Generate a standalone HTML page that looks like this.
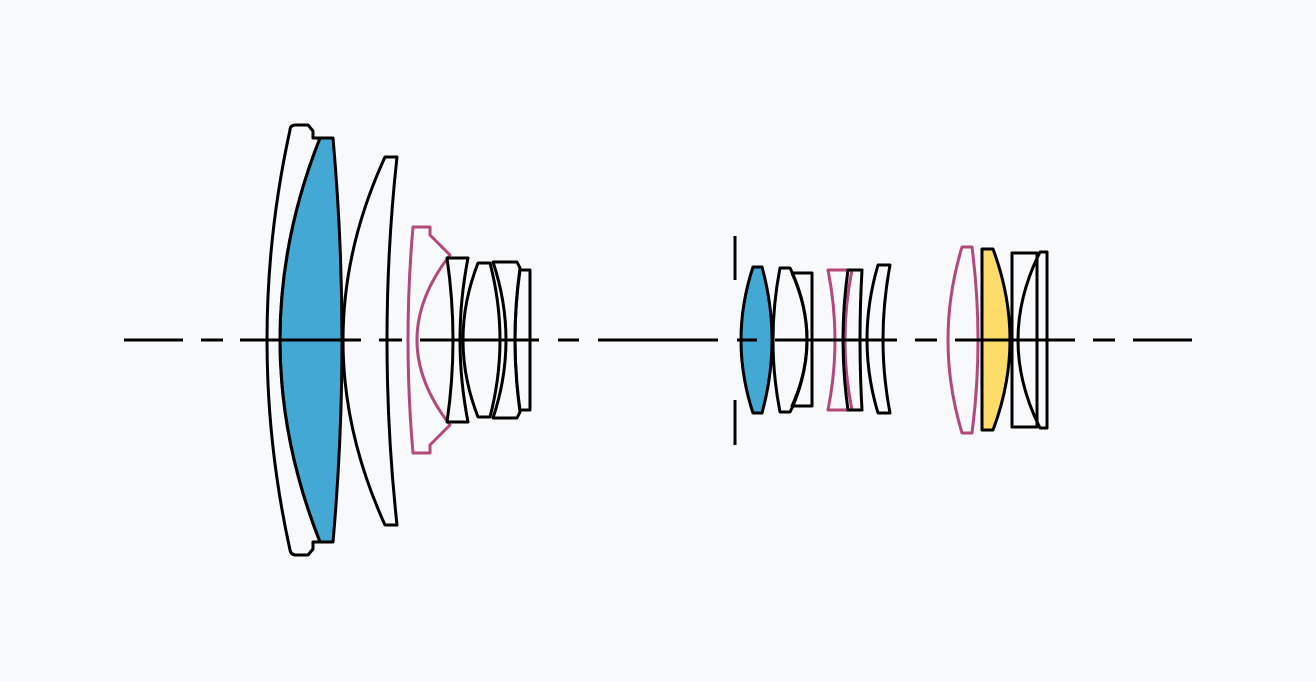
<!DOCTYPE html>
<html><head><meta charset="utf-8"><style>
html,body{margin:0;padding:0;background:#f8f9fa;}
svg{display:block;}
</style></head><body>
<svg width="1316" height="682" viewBox="0 0 1316 682" xmlns="http://www.w3.org/2000/svg">
<rect width="1316" height="682" fill="#f8f9fa"/>
<g fill="none" stroke="#000" stroke-width="3" stroke-linejoin="round">
<path d="M320,138 L333,138 Q351,340 333,542 L320,542 Q240,340 320,138 Z" fill="#43a9d4"/>
<path d="M290,130 Q244,340 290,550 Q291,555 296,555 L308,555 L313,549 L313,542 L320,542 Q240,340 320,138 L313,138 L313,131 L308,125 L296,125 Q290,125 290,130 Z"/>
<path d="M385,157 L397,157 Q377,340 397,525 L385,525 Q301,340 385,157 Z"/>
<path d="M413,227 L430,227 L430,235 L450,255 Q384,340 450,425 L430,445 L430,453 L413,453 Q403,340 413,227 Z" stroke="#b5487a"/>
<path d="M447,258 L468,258 Q452,340 468,422 L447,422 Q459,340 447,258 Z"/>
<path d="M478,263 L490,263 Q510,340 490,417 L478,417 Q448,340 478,263 Z"/>
<path d="M493,262 L517,262 L520,268 Q510,340 520,412 L517,418 L493,418 Q519,340 493,262 Z"/>
<path d="M520,270 L530,270 L530,410 L520,410 Q510,340 520,270 Z"/>
<path d="M735,236 L735,280 M735,400 L735,445"/>
<path d="M753,267 L762,267 Q782,340 762,413 L753,413 Q729,340 753,267 Z" fill="#43a9d4"/>
<path d="M780,268 L790,268 L792,272 Q822,340 792,408 L790,412 L780,412 Q766,340 780,268 Z"/>
<path d="M792,273 L812,273 L812,406 L792,406 Q822,340 792,273 Z"/>
<path d="M828,270 L852,270 Q838,340 852,410 L828,410 Q842,340 828,270 Z" stroke="#b5487a"/>
<path d="M848,270 L862,270 Q858,340 862,410 L848,410 Q838,340 848,270 Z"/>
<path d="M878,265 L890,265 Q876,340 890,413 L878,413 Q856,340 878,265 Z"/>
<path d="M962,247 L972,247 Q984,340 972,433 L962,433 Q934,340 962,247 Z" stroke="#b5487a"/>
<path d="M982,249 L993,249 Q1027,340 993,430 L982,430 Z" fill="#fddc6a"/>
<path d="M1012,253 L1037,253 L1037,427 L1012,427 Z"/>
<path d="M1040,252 L1047,252 L1047,428 L1040,428 Q996,340 1040,252 Z"/>
</g>
<g stroke="#000" stroke-width="3">
<line x1="124" y1="340" x2="183" y2="340"/>
<line x1="201" y1="340" x2="223" y2="340"/>
<line x1="240" y1="340" x2="361" y2="340"/>
<line x1="379" y1="340" x2="402" y2="340"/>
<line x1="420" y1="340" x2="539" y2="340"/>
<line x1="558" y1="340" x2="579" y2="340"/>
<line x1="598" y1="340" x2="718" y2="340"/>
<line x1="737" y1="340" x2="757" y2="340"/>
<line x1="775" y1="340" x2="897" y2="340"/>
<line x1="915" y1="340" x2="937" y2="340"/>
<line x1="955" y1="340" x2="1075" y2="340"/>
<line x1="1093" y1="340" x2="1115" y2="340"/>
<line x1="1133" y1="340" x2="1192" y2="340"/>
</g>
</svg>
</body></html>
